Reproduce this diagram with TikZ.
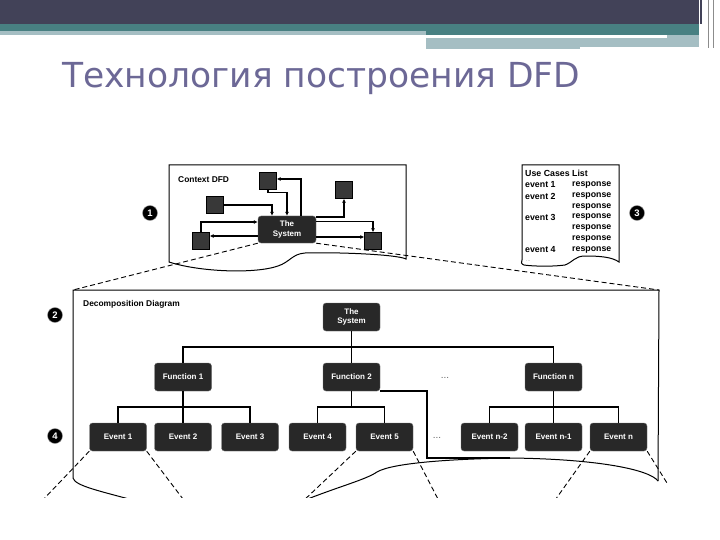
\documentclass[tikz,border=0pt]{standalone}
\usepackage{fontspec}
\setsansfont{Liberation Sans}
\newfontfamily\titlefont{DejaVu Sans}
\usetikzlibrary{arrows.meta}
\definecolor{bardark}{RGB}{66,66,88}
\definecolor{barteal}{RGB}{72,128,130}
\definecolor{barlight}{RGB}{165,190,195}
\definecolor{titlecol}{RGB}{108,104,150}
\definecolor{boxdark}{RGB}{40,40,40}

\begin{document}
\begin{tikzpicture}[x=1pt,y=-1pt,>={Latex[length=4pt,width=4pt]},font=\sffamily\bfseries]
    \tikzset{
        blockdark/.style={
            draw=black!55,fill=boxdark,rounded corners=3pt,text=white,
            minimum width=57pt,minimum height=28pt,align=center,inner sep=1pt,
            font=\sffamily\bfseries\fontsize{8}{9.5}\selectfont
        },
        entity/.style={draw=black,fill=black!78,minimum size=17pt,inner sep=0pt},
        flow/.style={->,line width=1.2pt},
        tree/.style={line width=1.4pt},
        zoomline/.style={dash pattern=on 5pt off 3pt,line width=0.9pt},
        framebox/.style={line width=1pt},
        stepnum/.style={
            circle,fill=black,draw=black!40,text=white,minimum size=15pt,inner sep=0pt,
            font=\sffamily\bfseries\fontsize{9.5}{9.5}\selectfont
        },
        listtext/.style={anchor=west,inner sep=0pt,
            font=\sffamily\bfseries\fontsize{8.8}{9}\selectfont},
        labeltext/.style={anchor=west,inner sep=0pt,
            font=\sffamily\bfseries\fontsize{8.4}{9}\selectfont},
        dots/.style={text=black!60,font=\sffamily\fontsize{10}{10}\selectfont}
    }
    \useasboundingbox (0,0) rectangle (720,540);

    % slide banner
    \fill[bardark] (0,0) rectangle (702,24);
    \fill[barteal] (0,24) rectangle (426,31);
    \fill[barlight] (0,31) rectangle (426,35);
    \fill[barteal] (426,24) rectangle (700,35.5);
    \fill[barlight] (426,38.5) rectangle (700,47);
    \fill[barlight] (667,35.5) rectangle (700,38.5);
    \fill[barlight] (426,47) rectangle (580,49);
    \draw[white,line width=0.8pt] (699,0) -- (699,48);
    \draw[black!45,line width=0.6pt] (708,0) -- (708,48);
    \draw[black!45,line width=0.6pt] (713,0) -- (713,48);

    \node[anchor=west,inner sep=0pt,text=titlecol] (title) at (62,79)
        {\resizebox{518pt}{!}{\titlefont\mdseries Технология построения DFD}};

    % context DFD
    \draw[framebox] (169,165) -- (406,165) -- (406,259)
        .. controls (396,254) and (330,252) .. (305,253)
        .. controls (292,254) and (290,262) .. (278,266)
        .. controls (255,274) and (200,272) .. (169,262) -- cycle;
    \node[labeltext] (ctxlabel) at (178,180) {Context DFD};

    \node[blockdark,minimum width=58pt,minimum height=27pt] (sysctx) at (287,229.5) {The\\System};
    \node[entity] (entA) at (268,181) {};
    \node[entity] (entB) at (215,205) {};
    \node[entity] (entC) at (344,190) {};
    \node[entity] (entD) at (201,241) {};
    \node[entity] (entE) at (373,241) {};

    \draw[flow] (entB.east) -| ([xshift=-15pt]sysctx.north);
    \draw[flow] (entA.south) -- ++(0,3) -| (sysctx.north);
    \draw[flow] ([xshift=14pt]sysctx.north) |- ([yshift=2pt]entA.east);
    \draw[flow] ([yshift=12.5pt]sysctx.east) -| (entC.south);
    \draw[flow] ([yshift=8pt]sysctx.east) -| (entE.north);
    \draw[flow] ([yshift=-7.5pt]sysctx.east) -- ([yshift=4pt]entE.west);
    \draw[flow] (entD.north) |- ([yshift=7.5pt]sysctx.west);
    \draw[flow] ([yshift=-6.5pt]sysctx.west) -- ([yshift=5pt]entD.east);

    % use cases list
    \draw[framebox] (522,165) -- (619,165) -- (619,262)
        .. controls (612,257) and (600,256) .. (585,256)
        .. controls (575,256) and (573,262) .. (565,265)
        .. controls (550,267) and (530,266) .. (524,265)
        .. controls (521,264) and (521,262) .. (522,260) -- cycle;
    \node[listtext] (uclist) at (525,173) {Use Cases List};
    \node[listtext] (ucev1) at (525,185) {event 1};
    \node[listtext] (ucres1) at (572,185) {response};
    \node[listtext] (ucev2) at (525,196) {event 2};
    \node[listtext] (ucres2) at (572,196) {response};
    \node[listtext] (ucres3) at (572,207) {response};
    \node[listtext] (ucev3) at (525,217) {event 3};
    \node[listtext] (ucres4) at (572,217) {response};
    \node[listtext] (ucres5) at (572,228) {response};
    \node[listtext] (ucres6) at (572,239) {response};
    \node[listtext] (ucev4) at (525,250) {event 4};
    \node[listtext] (ucres7) at (572,250) {response};
    \node[anchor=west,inner sep=0pt,text=black!50,font=\sffamily\fontsize{5}{5}\selectfont]
        (ucmore) at (526,261) {...};

    % step numbers
    \node[stepnum] (num1) at (150,213) {1};
    \node[stepnum] (num2) at (55,315) {2};
    \node[stepnum] (num3) at (637,213) {3};
    \node[stepnum] (num4) at (55,436) {4};

    % decomposition diagram
    \coordinate (dtl) at (73,290);
    \coordinate (dtr) at (659,290);
    \coordinate (dbr) at (658,481);
    \coordinate (drop) at (427,458);
    \coordinate (waveend) at (510,458);
    \begin{scope}
        \clip (0,0) rectangle (720,497);
        \draw[framebox] (73,478) -- (dtl) -- (dtr) -- (dbr);
        \draw[framebox] (dbr) .. controls (650,470) and (600,459) .. (waveend);
        \draw[framebox] (waveend) .. controls (450,459) and (392,463) .. (377,472)
            .. controls (365,480) and (340,486) .. (300,502);
        \draw[framebox] (73,478) .. controls (75,486) and (100,491) .. (140,502);
        \coordinate (cut1a) at (40,503);
        \coordinate (cut1b) at (186,503);
        \coordinate (cut5a) at (301,503);
        \coordinate (cut5b) at (440,503);
        \coordinate (cutna) at (553,503);
        \coordinate (cutnb) at (667,483);
    \end{scope}
    \draw[zoomline] (sysctx.south west) -- (dtl);
    \draw[zoomline] (sysctx.south east) -- (dtr);

    \node[labeltext] (declabel) at (83,304) {Decomposition Diagram};

    \node[blockdark] (dsys) at (351.5,317) {The\\System};
    \node[blockdark] (func1) at (183,377) {Function 1};
    \node[blockdark] (func2) at (351.5,377) {Function 2};
    \node[blockdark] (funcn) at (553.5,377) {Function n};
    \node[dots] (fdots) at (445,378) {...};

    \node[blockdark] (ev1) at (118,437) {Event 1};
    \node[blockdark] (ev2) at (183,437) {Event 2};
    \node[blockdark] (ev3) at (250,437) {Event 3};
    \node[blockdark] (ev4) at (317.5,437) {Event 4};
    \node[blockdark] (ev5) at (384.5,437) {Event 5};
    \node[dots] (edots) at (437,438) {...};
    \node[blockdark] (evn2) at (489.5,437) {Event n-2};
    \node[blockdark] (evn1) at (553.5,437) {Event n-1};
    \node[blockdark] (evn) at (618.5,437) {Event n};

    \draw[tree] (dsys.south) -- (func2.north);
    \draw[tree] (func1.north) -- ++(0,-16) -| (funcn.north);
    \draw[tree] (func1.south) -- (ev2.north);
    \draw[tree] (ev1.north) -- ++(0,-16) -| (ev3.north);
    \draw[tree] (func2.south) -- ++(0,16);
    \draw[tree] (ev4.north) -- ++(0,-16) -| (ev5.north);
    \draw[tree] (funcn.south) -- (evn1.north);
    \draw[tree] (evn2.north) -- ++(0,-16) -| (evn.north);
    \draw[tree] ([yshift=-14pt]func2.east) -| (drop) -- (waveend);

    \begin{scope}
        \clip (0,0) rectangle (720,497);
        \draw[zoomline] (ev1.south west) -- (cut1a);
        \draw[zoomline] (ev1.south east) -- (cut1b);
        \draw[zoomline] (ev5.south west) -- (cut5a);
        \draw[zoomline] (ev5.south east) -- (cut5b);
        \draw[zoomline] (evn.south west) -- (cutna);
        \draw[zoomline] (evn.south east) -- (cutnb);
    \end{scope}
\end{tikzpicture}
\end{document}
